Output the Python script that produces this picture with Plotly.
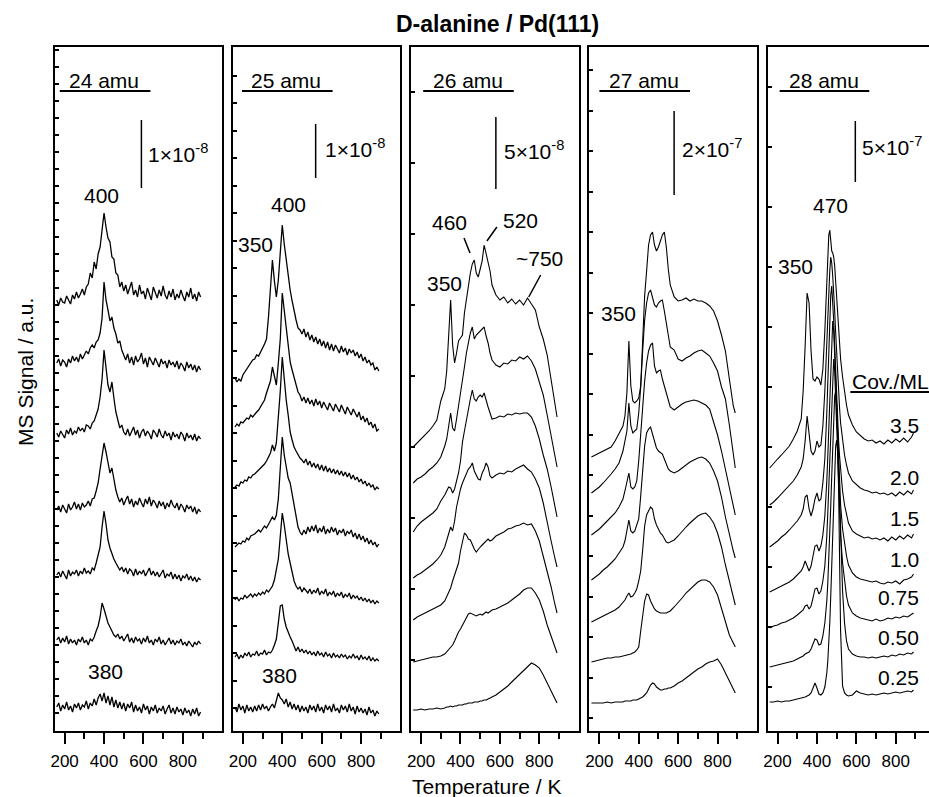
import plotly.graph_objects as go

# ---------------- data ----------------
coverages = ["3.5", "2.0", "1.5", "1.0", "0.75", "0.50", "0.25"]
masses = ["24 amu", "25 amu", "26 amu", "27 amu", "28 amu"]
scale_labels = ["1×10<sup>-8</sup>", "1×10<sup>-8</sup>", "5×10<sup>-8</sup>",
                "2×10<sup>-7</sup>", "5×10<sup>-7</sup>"]

# temperature grids (K)
T12 = [160, 170, 180, 190, 200, 210, 220, 230, 240, 250,
       260, 270, 280, 290, 300, 310, 320, 330, 340, 350,
       360, 370, 380, 390, 400, 410, 420, 430, 440, 450,
       460, 470, 480, 490, 500, 510, 520, 530, 540, 550,
       560, 570, 580, 590, 600, 610, 620, 630, 640, 650,
       660, 670, 680, 690, 700, 710, 720, 730, 740, 750,
       760, 770, 780, 790, 800, 810, 820, 830, 840, 850,
       860, 870, 880, 890]
T34 = [160, 180, 200, 220, 240, 260, 280, 300, 320,
       330, 340, 350, 360, 370, 380, 390, 400, 410, 420, 430, 440, 450, 460,
       470, 480, 490, 500, 510, 520, 530, 540, 550, 560,
       580, 600, 620, 640, 660, 680, 700, 720, 740, 760, 780, 800, 820, 840,
       860, 880, 890]
T5 = [160, 180, 200, 220, 240, 260, 280, 300, 320,
      330, 340, 350, 360, 370, 380, 390, 400, 410, 420, 430, 440,
      445, 450, 455, 460, 465, 470, 475, 480, 485, 490, 495, 500, 505, 510, 515, 520,
      530, 540, 550, 560,
      580, 600, 620, 640, 660, 680, 700, 720, 740, 760, 780, 800, 820, 840, 860, 880, 890]

# MS signal (a.u., traces offset for clarity), 24 amu
s24_35 = [431, 426, 433, 429, 428, 435, 431, 427, 436, 432,
          439, 433, 437, 442, 436, 444, 447, 458, 453, 469,
          462, 477, 484, 500, 518, 504, 493, 489, 474, 472,
          458, 456, 444, 449, 440, 446, 437, 443, 449, 436,
          441, 434, 446, 437, 440, 432, 443, 437, 431, 444,
          438, 433, 441, 435, 445, 436, 432, 440, 434, 442,
          431, 437, 433, 441, 435, 430, 439, 434, 443, 432,
          437, 430, 439, 434]
s24_20 = [368, 372, 365, 371, 369, 364, 372, 368, 375, 370,
          374, 369, 377, 372, 376, 380, 377, 383, 386, 383,
          389, 391, 398, 413, 449, 431, 421, 410, 414, 403,
          397, 388, 390, 381, 376, 371, 377, 368, 374, 366,
          375, 369, 372, 378, 367, 373, 364, 374, 370, 366,
          373, 368, 364, 372, 367, 370, 363, 371, 366, 369,
          364, 370, 362, 368, 365, 360, 369, 363, 367, 361,
          366, 359, 365, 361]
s24_15 = [298, 294, 300, 296, 293, 301, 297, 303, 296, 300,
          298, 304, 300, 303, 299, 306, 305, 302, 308, 310,
          316, 322, 334, 352, 381, 361, 346, 339, 349, 333,
          319, 311, 303, 306, 299, 296, 302, 295, 300, 304,
          296, 301, 293, 299, 302, 295, 300, 297, 292, 301,
          298, 294, 302, 296, 293, 300, 295, 298, 291, 299,
          294, 297, 292, 299, 296, 290, 298, 293, 296, 291,
          297, 290, 295, 292]
s24_10 = [221, 225, 219, 226, 222, 218, 227, 221, 224, 229,
          222, 227, 221, 228, 224, 226, 230, 225, 232, 233,
          240, 248, 262, 276, 288, 279, 266, 258, 263, 251,
          241, 234, 229, 233, 226, 231, 235, 227, 232, 224,
          230, 226, 233, 228, 224, 232, 227, 234, 225, 231,
          228, 223, 230, 225, 229, 222, 228, 224, 231, 226,
          223, 228, 221, 227, 224, 219, 226, 222, 225, 219,
          224, 217, 222, 219]
s24_075 = [156, 159, 154, 160, 156, 152, 161, 155, 159, 157,
           161, 155, 160, 157, 163, 158, 160, 157, 163, 161,
           168, 175, 184, 204, 220, 207, 191, 183, 177, 172,
           168, 165, 161, 164, 159, 163, 157, 162, 160, 155,
           162, 156, 160, 157, 161, 155, 159, 163, 156, 160,
           155, 159, 154, 158, 161, 153, 157, 155, 159, 152,
           157, 152, 156, 150, 155, 153, 157, 151, 155, 150,
           154, 149, 153, 151]
s24_050 = [91, 94, 88, 93, 89, 95, 87, 92, 88, 91,
           86, 92, 89, 94, 88, 91, 86, 92, 90, 94,
           100, 105, 114, 128, 122, 115, 108, 104, 99, 96,
           94, 97, 92, 95, 90, 94, 97, 89, 93, 88,
           94, 90, 92, 87, 93, 89, 95, 88, 91, 86,
           92, 89, 94, 87, 91, 86, 90, 93, 87, 91,
           86, 90, 88, 92, 86, 89, 85, 90, 87, 84,
           89, 86, 90, 87]
s24_025 = [24, 28, 20, 26, 22, 29, 21, 25, 19, 27,
           23, 28, 21, 26, 24, 30, 22, 28, 25, 32,
           26, 33, 37, 30, 38, 28, 35, 26, 34, 24,
           31, 23, 29, 22, 28, 20, 27, 23, 29, 19,
           26, 20, 24, 18, 27, 21, 25, 17, 24, 20,
           26, 18, 23, 20, 25, 17, 22, 26, 18, 23,
           17, 24, 19, 22, 16, 23, 18, 21, 15, 22,
           17, 23, 15, 19]

# 25 amu
s25_35 = [353, 349, 352, 350, 356, 359, 362, 366, 368, 371,
          372, 376, 375, 380, 383, 387, 392, 414, 448, 471,
          450, 434, 451, 478, 506, 487, 471, 452, 441, 430,
          419, 411, 403, 401, 397, 402, 394, 399, 391, 396,
          389, 394, 387, 392, 385, 390, 383, 389, 381, 387,
          380, 386, 382, 378, 385, 379, 383, 376, 382, 378,
          381, 375, 379, 373, 377, 370, 374, 368, 371, 366,
          368, 361, 364, 360]
s25_20 = [304, 307, 305, 309, 308, 311, 313, 312, 316, 314,
          317, 319, 321, 324, 327, 331, 338, 344, 350, 364,
          356, 346, 368, 392, 438, 421, 398, 381, 369, 361,
          353, 344, 339, 336, 330, 334, 328, 333, 327, 331,
          325, 332, 326, 330, 323, 329, 325, 321, 328, 324,
          320, 327, 323, 319, 326, 321, 317, 324, 320, 316,
          322, 318, 314, 319, 311, 315, 309, 313, 306, 309,
          303, 307, 300, 302]
s25_15 = [244, 246, 245, 249, 248, 251, 250, 254, 253, 256,
          257, 259, 260, 262, 264, 267, 270, 274, 278, 286,
          280, 288, 310, 340, 374, 350, 331, 316, 299, 291,
          284, 280, 276, 273, 271, 268, 272, 266, 270, 264,
          268, 263, 267, 261, 266, 260, 265, 259, 263, 258,
          262, 257, 261, 256, 260, 255, 259, 254, 258, 252,
          256, 251, 254, 249, 252, 247, 250, 245, 248, 244,
          246, 241, 244, 242]
s25_10 = [184, 186, 188, 187, 190, 189, 193, 191, 195, 196,
          197, 199, 201, 199, 202, 205, 203, 207, 210, 214,
          211, 216, 232, 262, 294, 276, 262, 253, 248, 237,
          226, 215, 204, 199, 196, 201, 197, 204, 199, 205,
          200, 206, 198, 203, 199, 205, 197, 202, 198, 204,
          199, 203, 196, 201, 198, 202, 195, 200, 197, 201,
          194, 198, 192, 197, 191, 195, 189, 193, 187, 191,
          186, 189, 184, 187]
s25_075 = [131, 134, 130, 133, 132, 136, 133, 135, 137, 134,
           137, 135, 138, 136, 139, 137, 141, 139, 142, 145,
           151, 160, 172, 195, 218, 206, 190, 177, 168, 157,
           150, 145, 142, 144, 139, 143, 140, 138, 142, 137,
           141, 138, 143, 136, 140, 137, 142, 135, 139, 136,
           140, 134, 138, 135, 139, 133, 137, 134, 138, 132,
           136, 133, 135, 131, 134, 130, 133, 129, 132, 128,
           131, 127, 130, 128]
s25_050 = [74, 77, 72, 76, 73, 78, 75, 79, 74, 77,
           76, 80, 75, 78, 77, 81, 76, 79, 78, 81,
           86, 92, 108, 125, 126, 112, 104, 98, 94, 90,
           85, 80, 84, 79, 82, 78, 81, 77, 80, 76,
           79, 75, 80, 76, 78, 74, 79, 75, 77, 73,
           78, 74, 76, 73, 77, 74, 76, 72, 75, 73,
           77, 73, 75, 71, 76, 72, 74, 71, 75, 70,
           73, 70, 72, 70]
s25_025 = [24, 19, 27, 21, 25, 18, 26, 20, 24, 19,
           25, 20, 26, 21, 27, 22, 25, 20, 24, 27,
           23, 30, 38, 33, 31, 27, 32, 24, 29, 22,
           27, 21, 26, 19, 25, 20, 24, 18, 26, 21,
           25, 19, 27, 20, 24, 18, 26, 21, 25, 19,
           27, 20, 23, 18, 26, 21, 25, 19, 27, 20,
           24, 17, 25, 19, 23, 18, 22, 16, 24, 18,
           21, 15, 20, 17]

# 26 amu
s26_35 = [284, 288, 291, 296, 300, 305, 311, 330, 342, 360, 395, 431, 386, 368, 378, 390, 393, 396, 418, 432, 448, 458, 467, 471, 458, 454, 462, 470, 486, 478, 469, 460, 446, 436, 431, 434, 428, 432, 427, 431, 426, 433, 427, 421, 404, 392, 376, 352, 328, 314]
s26_20 = [248, 252, 254, 257, 261, 264, 268, 274, 285, 292, 305, 318, 303, 300, 312, 324, 338, 352, 364, 378, 390, 398, 404, 392, 396, 398, 400, 402, 404, 395, 388, 378, 371, 366, 364, 368, 367, 371, 370, 374, 372, 375, 370, 362, 350, 336, 316, 296, 275, 264]
s26_15 = [199, 205, 209, 212, 215, 218, 222, 230, 236, 240, 244, 243, 238, 242, 250, 258, 270, 289, 300, 312, 322, 332, 341, 332, 330, 334, 336, 334, 338, 330, 324, 318, 312, 313, 315, 314, 317, 316, 318, 317, 318, 318, 314, 305, 292, 276, 262, 244, 226, 214]
s26_10 = [153, 156, 158, 161, 164, 167, 171, 176, 184, 190, 198, 204, 200, 210, 224, 234, 242, 248, 253, 258, 262, 264, 268, 260, 256, 252, 251, 258, 262, 268, 264, 255, 253, 256, 258, 257, 260, 259, 262, 264, 266, 262, 259, 252, 243, 228, 208, 190, 172, 164]
s26_075 = [111, 114, 116, 118, 120, 122, 124, 126, 130, 134, 138, 143, 150, 156, 160, 168, 180, 190, 198, 196, 192, 191, 186, 182, 179, 182, 184, 186, 188, 190, 192, 190, 191, 195, 197, 199, 202, 203, 205, 206, 208, 206, 207, 200, 190, 175, 160, 144, 126, 118]
s26_050 = [69, 70, 71, 72, 73, 74, 74, 75, 77, 79, 81, 84, 86, 90, 95, 99, 102, 106, 110, 114, 117, 118, 117, 116, 115, 116, 117, 116, 118, 119, 118, 120, 121, 122, 124, 126, 128, 131, 134, 137, 141, 143, 143, 138, 131, 120, 106, 95, 84, 78]
s26_025 = [21, 21, 22, 21, 22, 22, 23, 22, 23, 24, 24, 25, 24, 25, 25, 26, 26, 26, 27, 27, 28, 28, 28, 29, 29, 29, 30, 30, 31, 31, 32, 33, 34, 36, 39, 42, 45, 49, 53, 57, 60, 64, 68, 66, 63, 56, 48, 40, 32, 28]

# 27 amu
s27_35 = [274, 276, 278, 280, 282, 284, 290, 297, 305, 315, 338, 390, 345, 330, 328, 330, 333, 345, 398, 435, 460, 486, 496, 499, 486, 480, 484, 490, 496, 499, 484, 462, 446, 434, 430, 431, 433, 430, 432, 430, 430, 428, 425, 420, 410, 396, 380, 352, 325, 318]
s27_20 = [238, 241, 244, 248, 252, 257, 262, 268, 280, 290, 300, 328, 305, 298, 300, 302, 318, 344, 380, 411, 428, 438, 441, 432, 426, 424, 428, 430, 431, 420, 408, 394, 384, 381, 372, 370, 373, 375, 378, 380, 381, 378, 375, 368, 360, 344, 332, 306, 278, 263]
s27_15 = [196, 199, 202, 206, 210, 214, 218, 224, 232, 240, 250, 258, 244, 242, 244, 250, 270, 298, 325, 350, 368, 380, 386, 388, 365, 358, 360, 361, 352, 345, 338, 330, 324, 321, 324, 327, 329, 330, 331, 330, 328, 326, 322, 310, 296, 280, 262, 245, 228, 216]
s27_10 = [151, 154, 157, 161, 164, 168, 172, 178, 184, 190, 200, 211, 200, 198, 200, 206, 212, 235, 265, 285, 298, 302, 304, 296, 288, 283, 280, 278, 277, 272, 266, 262, 260, 258, 260, 263, 266, 269, 271, 273, 274, 272, 268, 260, 250, 234, 214, 196, 180, 173]
s27_075 = [109, 111, 113, 115, 117, 119, 121, 124, 128, 131, 135, 138, 134, 135, 138, 142, 150, 160, 181, 205, 216, 220, 224, 222, 212, 206, 202, 198, 196, 192, 189, 188, 189, 191, 195, 200, 204, 208, 212, 215, 217, 218, 214, 208, 198, 184, 166, 150, 136, 126]
s27_050 = [69, 70, 71, 72, 73, 73, 74, 74, 75, 75, 76, 76, 77, 78, 79, 81, 84, 100, 116, 130, 137, 136, 130, 126, 122, 120, 119, 118, 118, 118, 118, 119, 120, 124, 128, 133, 138, 142, 146, 149, 151, 151, 149, 144, 136, 122, 108, 96, 88, 84]
s27_025 = [28, 28, 28, 28, 29, 28, 29, 29, 29, 30, 30, 30, 30, 31, 31, 31, 32, 33, 34, 36, 38, 42, 46, 48, 47, 44, 42, 41, 41, 42, 42, 43, 43, 45, 48, 50, 53, 56, 59, 62, 64, 67, 69, 70, 72, 66, 58, 50, 42, 38]

# 28 amu
s28_35 = [263, 268, 272, 276, 281, 285, 292, 300, 312, 340, 385, 438, 428, 380, 352, 350, 354, 352, 346, 362, 400, 428, 460, 482, 496, 501, 490, 480, 478, 474, 465, 448, 430, 414, 398, 384, 372, 354, 338, 326, 316, 306, 299, 295, 292, 290, 291, 288, 290, 287, 291, 288, 292, 289, 293, 289, 294, 298]
s28_20 = [226, 229, 233, 237, 241, 245, 250, 256, 264, 272, 290, 315, 300, 280, 276, 280, 290, 284, 286, 305, 340, 365, 395, 420, 440, 460, 474, 468, 455, 440, 420, 398, 376, 356, 338, 322, 308, 290, 276, 266, 258, 250, 246, 243, 241, 240, 238, 239, 237, 238, 236, 238, 235, 239, 236, 240, 237, 241]
s28_15 = [184, 187, 190, 194, 197, 201, 205, 210, 216, 222, 234, 236, 222, 215, 222, 232, 238, 230, 232, 248, 272, 292, 318, 348, 380, 410, 436, 445, 432, 410, 385, 358, 332, 310, 290, 274, 260, 240, 226, 215, 208, 200, 197, 195, 193, 194, 192, 193, 191, 193, 190, 194, 191, 195, 192, 196, 193, 197]
s28_10 = [139, 141, 143, 145, 147, 149, 152, 156, 160, 164, 170, 165, 160, 165, 175, 185, 186, 180, 185, 196, 215, 230, 250, 275, 305, 335, 365, 392, 410, 400, 375, 345, 315, 288, 262, 242, 226, 202, 186, 175, 166, 158, 154, 152, 151, 150, 149, 150, 148, 147, 149, 148, 150, 147, 151, 152, 154, 157]
s28_075 = [103, 105, 106, 108, 109, 111, 113, 116, 119, 121, 125, 126, 122, 125, 133, 142, 143, 137, 140, 150, 165, 178, 195, 218, 245, 275, 305, 335, 360, 372, 360, 335, 305, 275, 245, 218, 196, 168, 148, 135, 126, 118, 115, 113, 112, 111, 110, 112, 110, 111, 113, 112, 114, 113, 115, 114, 117, 118]
s28_050 = [64, 65, 66, 67, 68, 69, 70, 72, 74, 75, 77, 78, 79, 82, 88, 92, 91, 86, 87, 95, 108, 118, 130, 148, 170, 195, 225, 255, 285, 315, 335, 340, 325, 295, 260, 225, 192, 140, 108, 90, 82, 77, 75, 74, 74, 73, 74, 73, 74, 75, 74, 76, 75, 77, 76, 78, 77, 79]
s28_025 = [29, 29, 30, 29, 30, 30, 31, 32, 33, 33, 34, 35, 36, 38, 44, 48, 43, 37, 36, 38, 44, 50, 58, 70, 86, 108, 135, 165, 200, 235, 265, 285, 291, 280, 240, 170, 100, 45, 38, 36, 35, 36, 40, 38, 37, 36, 37, 36, 37, 38, 37, 38, 39, 38, 39, 40, 39, 41]

panels = [
    (T12, [s24_35, s24_20, s24_15, s24_10, s24_075, s24_050, s24_025]),
    (T12, [s25_35, s25_20, s25_15, s25_10, s25_075, s25_050, s25_025]),
    (T34, [s26_35, s26_20, s26_15, s26_10, s26_075, s26_050, s26_025]),
    (T34, [s27_35, s27_20, s27_15, s27_10, s27_075, s27_050, s27_025]),
    (T5,  [s28_35, s28_20, s28_15, s28_10, s28_075, s28_050, s28_025]),
]
for T, rows in panels:
    for r in rows:
        assert len(r) == len(T), (len(r), len(T))

# ---------------- layout ----------------
W, H = 929, 797
FONT = "Liberation Sans, Arial, Helvetica, sans-serif"
LEFTS = [51, 230, 409, 588, 767]
PW = 168
TOP, BOT = 47, 731
XSCALE = PW / 850.0          # px per K
LINE_W = [1.3, 1.3, 1.1, 1.1, 1.1]


def px(x):
    return x / W


def py(y):
    return 1 - y / H


fig = go.Figure()
for i, (T, rows) in enumerate(panels):
    xa = "x" if i == 0 else f"x{i+1}"
    ya = "y" if i == 0 else f"y{i+1}"
    for cov, r in zip(coverages, rows):
        fig.add_trace(go.Scatter(x=T, y=r, mode="lines", xaxis=xa, yaxis=ya,
                                 name=f"{masses[i]} {cov} ML", showlegend=False,
                                 line=dict(color="black", width=LINE_W[i])))

ytick = [(17, 1), (27.5, 23), (71, 0), (40.5, 13), (60, 44)]
layout = dict(width=W, height=H, margin=dict(l=0, r=0, t=0, b=0),
              paper_bgcolor="white", plot_bgcolor="white", showlegend=False,
              font=dict(family=FONT, color="black"))
for i, L in enumerate(LEFTS):
    right = min(L + PW, W)
    xmax = 150 + (right - L) / XSCALE - 1
    k = "" if i == 0 else str(i + 1)
    layout[f"xaxis{k}"] = dict(
        domain=[px(L), px(right)], range=[150, xmax], anchor=f"y{k}",
        showline=True, linewidth=2, linecolor="black", mirror=True,
        showgrid=False, zeroline=False,
        ticks="outside", tickvals=[200, 400, 600, 800], ticklen=11, tickwidth=2,
        tickcolor="black", tickfont=dict(size=17, family=FONT),
        ticklabelstandoff=3,
        minor=dict(tickvals=[300, 500, 700, 900], ticks="outside", ticklen=6,
                   tickwidth=2, tickcolor="black"),
    )
    layout[f"yaxis{k}"] = dict(
        domain=[py(BOT), py(TOP)], range=[0, BOT - TOP], anchor=f"x{k}",
        showline=True, linewidth=2, linecolor="black", mirror=(i < 4),
        showgrid=False, zeroline=False, showticklabels=False,
        ticks="inside", ticklen=4, tickwidth=1.5, tickcolor="black",
        dtick=ytick[i][0], tick0=ytick[i][1],
    )
fig.update_layout(**layout)

ann = []
shapes = []


def text(t, x, y, size=21, xanchor="center", bold=False, angle=0):
    ann.append(dict(text=(f"<b>{t}</b>" if bold else t), x=px(x), y=py(y),
                    xref="paper", yref="paper", showarrow=False, xanchor=xanchor,
                    yanchor="middle", textangle=angle,
                    font=dict(size=size, family=FONT, color="black")))


def line(x0, y0, x1, y1, w=1.5):
    shapes.append(dict(type="line", xref="paper", yref="paper",
                       x0=px(x0), y0=py(y0), x1=px(x1), y1=py(y1),
                       line=dict(color="black", width=w)))


# title and axis titles
text("D-alanine / Pd(111)", 496, 24, size=23, bold=True)
text("Temperature / K", 485, 786, size=21)
text("MS Signal / a.u.", 21, 372, size=21, angle=-90)

# mass labels with underline
mass_x = [64, 247, 430, 607, 787]
ul = [(56, 147), (239, 330), (421, 512), (598, 689), (779, 869)]
for m, x0, (u0, u1) in zip(masses, mass_x, ul):
    text(m, x0 - 1, 81, xanchor="left")
    line(u0, 91, u1, 91, w=2)

# intensity scale bars
bars = [(138, 120, 188), (313, 124, 178), (494, 117, 189), (673, 111, 195), (855, 121, 182)]
lab_x = [143, 320, 500, 679, 860]
lab_y = [153, 148, 150, 148, 146]
for (bx, b0, b1), s, lx, ly in zip(bars, scale_labels, lab_x, lab_y):
    line(bx, b0, bx, b1, w=1.5)
    text(s, lx, ly, xanchor="left")

# peak labels
for t, x, y in [("400", 98, 196), ("380", 102, 671),
                ("400", 286, 204), ("350", 253, 245), ("380", 277, 675),
                ("460", 447, 223), ("520", 519, 220), ("~750", 538, 258), ("350", 442, 283),
                ("350", 617, 314),
                ("470", 830, 206), ("350", 795, 266)]:
    text(t, x, y)
line(462, 238, 468, 253)
line(495, 227, 485, 241)
line(539, 275, 527, 297)

# coverage labels
text("Cov./ML", 850, 381, xanchor="left")
line(850, 392, 929, 392, w=2)
for c, y in zip(coverages, [425, 477, 518, 559, 597, 637, 677]):
    text(c, 921, y, xanchor="right")

fig.update_layout(annotations=ann, shapes=shapes)
fig.write_html("out.html")
